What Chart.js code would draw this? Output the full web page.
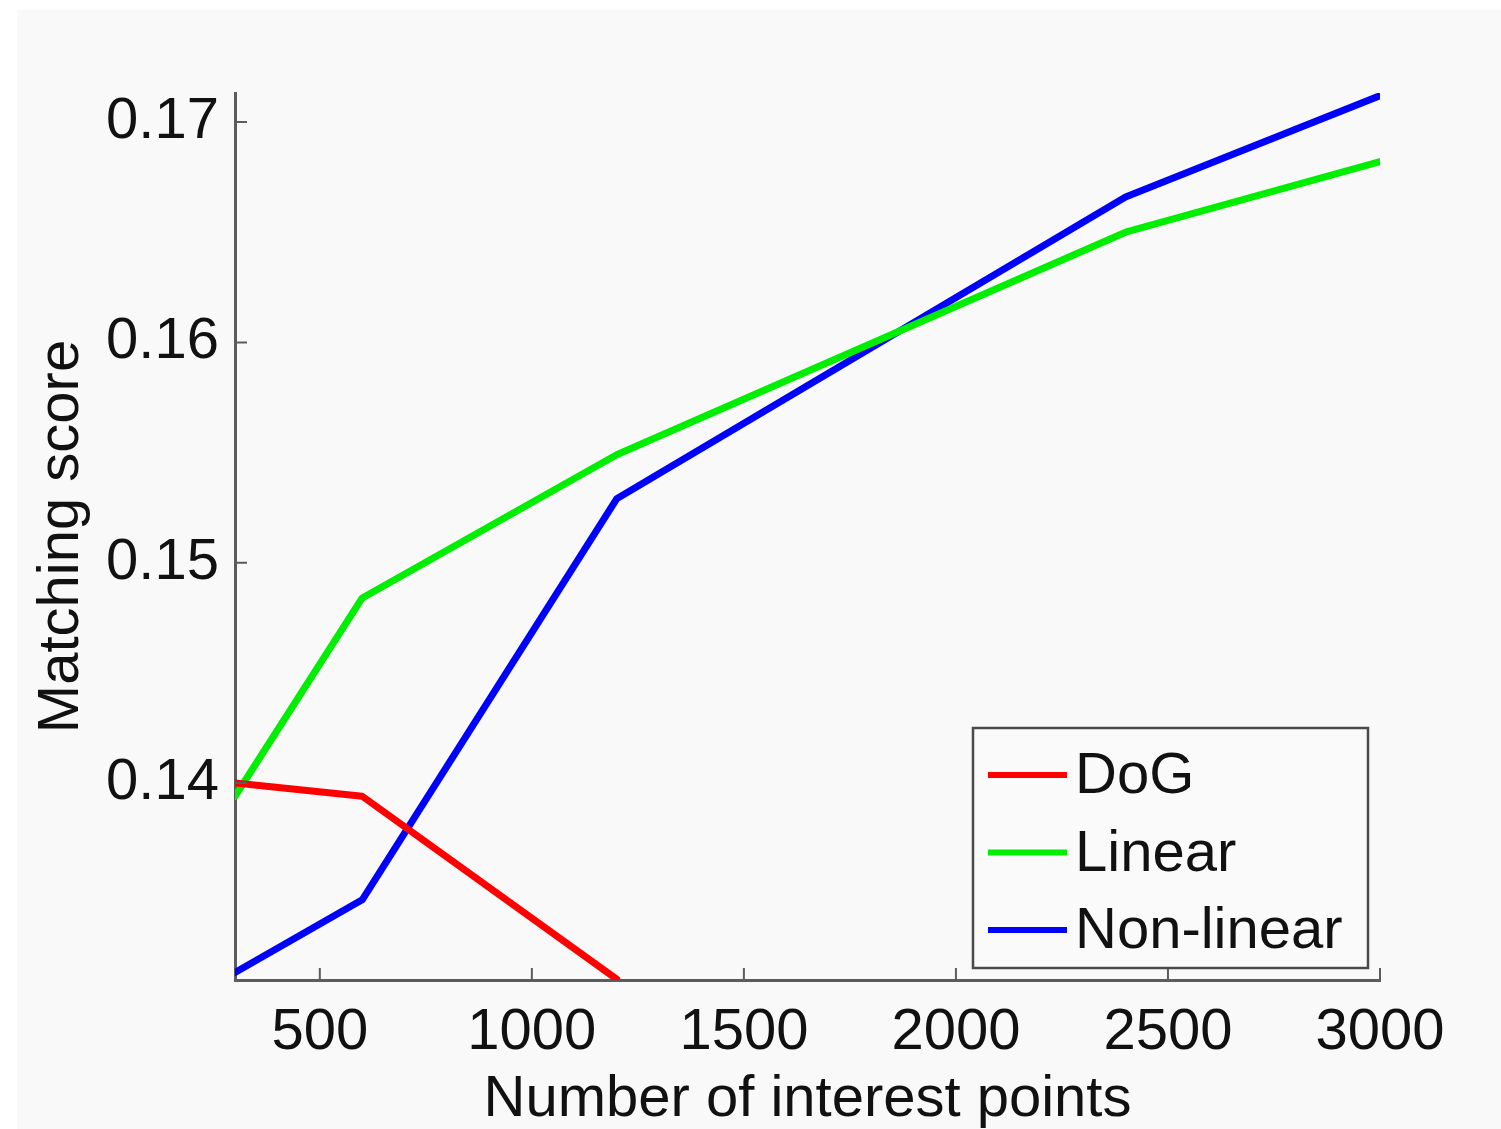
<!DOCTYPE html>
<html>
<head>
<meta charset="utf-8">
<title>Matching score</title>
<script src="https://cdn.jsdelivr.net/npm/chart.js@4/dist/chart.umd.min.js"></script>
<style>
  html, body { margin: 0; padding: 0; background: #fff; }
  #wrap { width: 1501px; height: 1129px; }
</style>
</head>
<body>
<div id="wrap"><canvas id="scoreChart" width="1501" height="1129"></canvas></div>
<script>
// number of interest points used in each run
const pointCounts = [300, 600, 1200, 2400, 3000];
const dogScores = [0.1400, 0.1394, 0.1311];
const linearScores = [0.1394, 0.1484, 0.1549, 0.1650, 0.1682];
const nonLinearScores = [0.1314, 0.1347, 0.1529, 0.1666, 0.1712];

const xTicks = [500, 1000, 1500, 2000, 2500, 3000];
const yTicks = [0.14, 0.15, 0.16, 0.17];

const FONT = 'Liberation Sans, Arial, Helvetica, sans-serif';
const AXIS_COLOR = '#5c5c5c';

function toPoints(values) {
    return values.map((y, i) => ({ x: pointCounts[i], y }));
}

// gray figure background, white margin at top/left
const backgroundPlugin = {
    id: 'figureBackground',
    beforeDraw(chart) {
        const ctx = chart.ctx;
        ctx.save();
        ctx.fillStyle = '#ffffff';
        ctx.fillRect(0, 0, chart.width, chart.height);
        ctx.fillStyle = '#f9f9f9';
        ctx.fillRect(17, 10, chart.width - 17, chart.height - 10);
        ctx.restore();
    }
};

// inward tick marks, matlab style
const innerTicksPlugin = {
    id: 'innerTicks',
    afterDraw(chart) {
        const ctx = chart.ctx;
        const { left, bottom } = chart.chartArea;
        const len = 12;
        ctx.save();
        ctx.strokeStyle = AXIS_COLOR;
        ctx.lineWidth = 2;
        ctx.beginPath();
        xTicks.forEach(v => {
            const px = chart.scales.x.getPixelForValue(v);
            ctx.moveTo(px, bottom);
            ctx.lineTo(px, bottom - len);
        });
        yTicks.forEach(v => {
            const py = chart.scales.y.getPixelForValue(v);
            ctx.moveTo(left, py);
            ctx.lineTo(left + len, py);
        });
        ctx.stroke();
        ctx.restore();
    }
};

// boxed legend in the lower right corner of the plot
const boxLegendPlugin = {
    id: 'boxLegend',
    afterDraw(chart) {
        const ctx = chart.ctx;
        const area = chart.chartArea;
        const boxRight = area.right - 12;
        const boxBottom = area.bottom - 12;
        const boxW = 395, boxH = 240;
        const boxLeft = boxRight - boxW;
        const boxTop = boxBottom - boxH;

        ctx.save();
        ctx.fillStyle = '#fafafa';
        ctx.fillRect(boxLeft, boxTop, boxW, boxH);
        ctx.strokeStyle = '#4a4a4a';
        ctx.lineWidth = 2.5;
        ctx.strokeRect(boxLeft, boxTop, boxW, boxH);

        ctx.font = '58px ' + FONT;
        ctx.textBaseline = 'middle';
        ctx.textAlign = 'left';
        chart.data.datasets.forEach((ds, i) => {
            const y = boxTop + 47 + i * 77.5;
            ctx.strokeStyle = ds.borderColor;
            ctx.lineWidth = 6;
            ctx.beginPath();
            ctx.moveTo(boxLeft + 15, y);
            ctx.lineTo(boxLeft + 94, y);
            ctx.stroke();
            ctx.fillStyle = '#111111';
            ctx.fillText(ds.label, boxLeft + 102, y + 2);
        });
        ctx.restore();
    }
};

const ctx = document.getElementById('scoreChart');

new Chart(ctx, {
    type: 'line',
    data: {
        datasets: [{
            label: 'DoG',
            data: toPoints(dogScores),
            borderColor: '#ff0000',
            backgroundColor: '#ff0000'
        }, {
            label: 'Linear',
            data: toPoints(linearScores),
            borderColor: '#00ee00',
            backgroundColor: '#00ee00'
        }, {
            label: 'Non-linear',
            data: toPoints(nonLinearScores),
            borderColor: '#0000ff',
            backgroundColor: '#0000ff'
        }]
    },
    options: {
        responsive: false,
        animation: false,
        clip: 0,
        layout: {
            padding: { left: 0, top: 93, right: 121, bottom: 0 }
        },
        elements: {
            line: { borderWidth: 7, tension: 0, borderCapStyle: 'round', borderJoinStyle: 'round' },
            point: { radius: 0, hoverRadius: 0 }
        },
        plugins: {
            legend: { display: false },
            tooltip: { enabled: false }
        },
        scales: {
            x: {
                type: 'linear',
                min: 300,
                max: 3000,
                afterBuildTicks: scale => { scale.ticks = xTicks.map(v => ({ value: v })); },
                afterFit: scale => { scale.height = 149; },
                grid: { display: false },
                border: { display: true, color: AXIS_COLOR, width: 3 },
                ticks: {
                    padding: 10,
                    color: '#111111',
                    font: { family: FONT, size: 58 },
                    callback: value => String(value)
                },
                title: {
                    display: true,
                    text: 'Number of interest points',
                    color: '#111111',
                    font: { family: FONT, size: 58, lineHeight: 1 },
                    padding: 0
                }
            },
            y: {
                type: 'linear',
                min: 0.13106,
                max: 0.17132,
                afterBuildTicks: scale => { scale.ticks = yTicks.map(v => ({ value: v })); },
                afterFit: scale => { scale.width = 235; },
                grid: { display: false },
                border: { display: true, color: AXIS_COLOR, width: 3 },
                ticks: {
                    padding: 8,
                    color: '#111111',
                    font: { family: FONT, size: 58 },
                    callback: value => value.toFixed(2)
                },
                title: {
                    display: true,
                    text: 'Matching score',
                    color: '#111111',
                    font: { family: FONT, size: 58, lineHeight: 1 },
                    padding: { top: 33, bottom: 0 }
                }
            }
        }
    },
    plugins: [backgroundPlugin, innerTicksPlugin, boxLegendPlugin]
});
</script>
</body>
</html>
